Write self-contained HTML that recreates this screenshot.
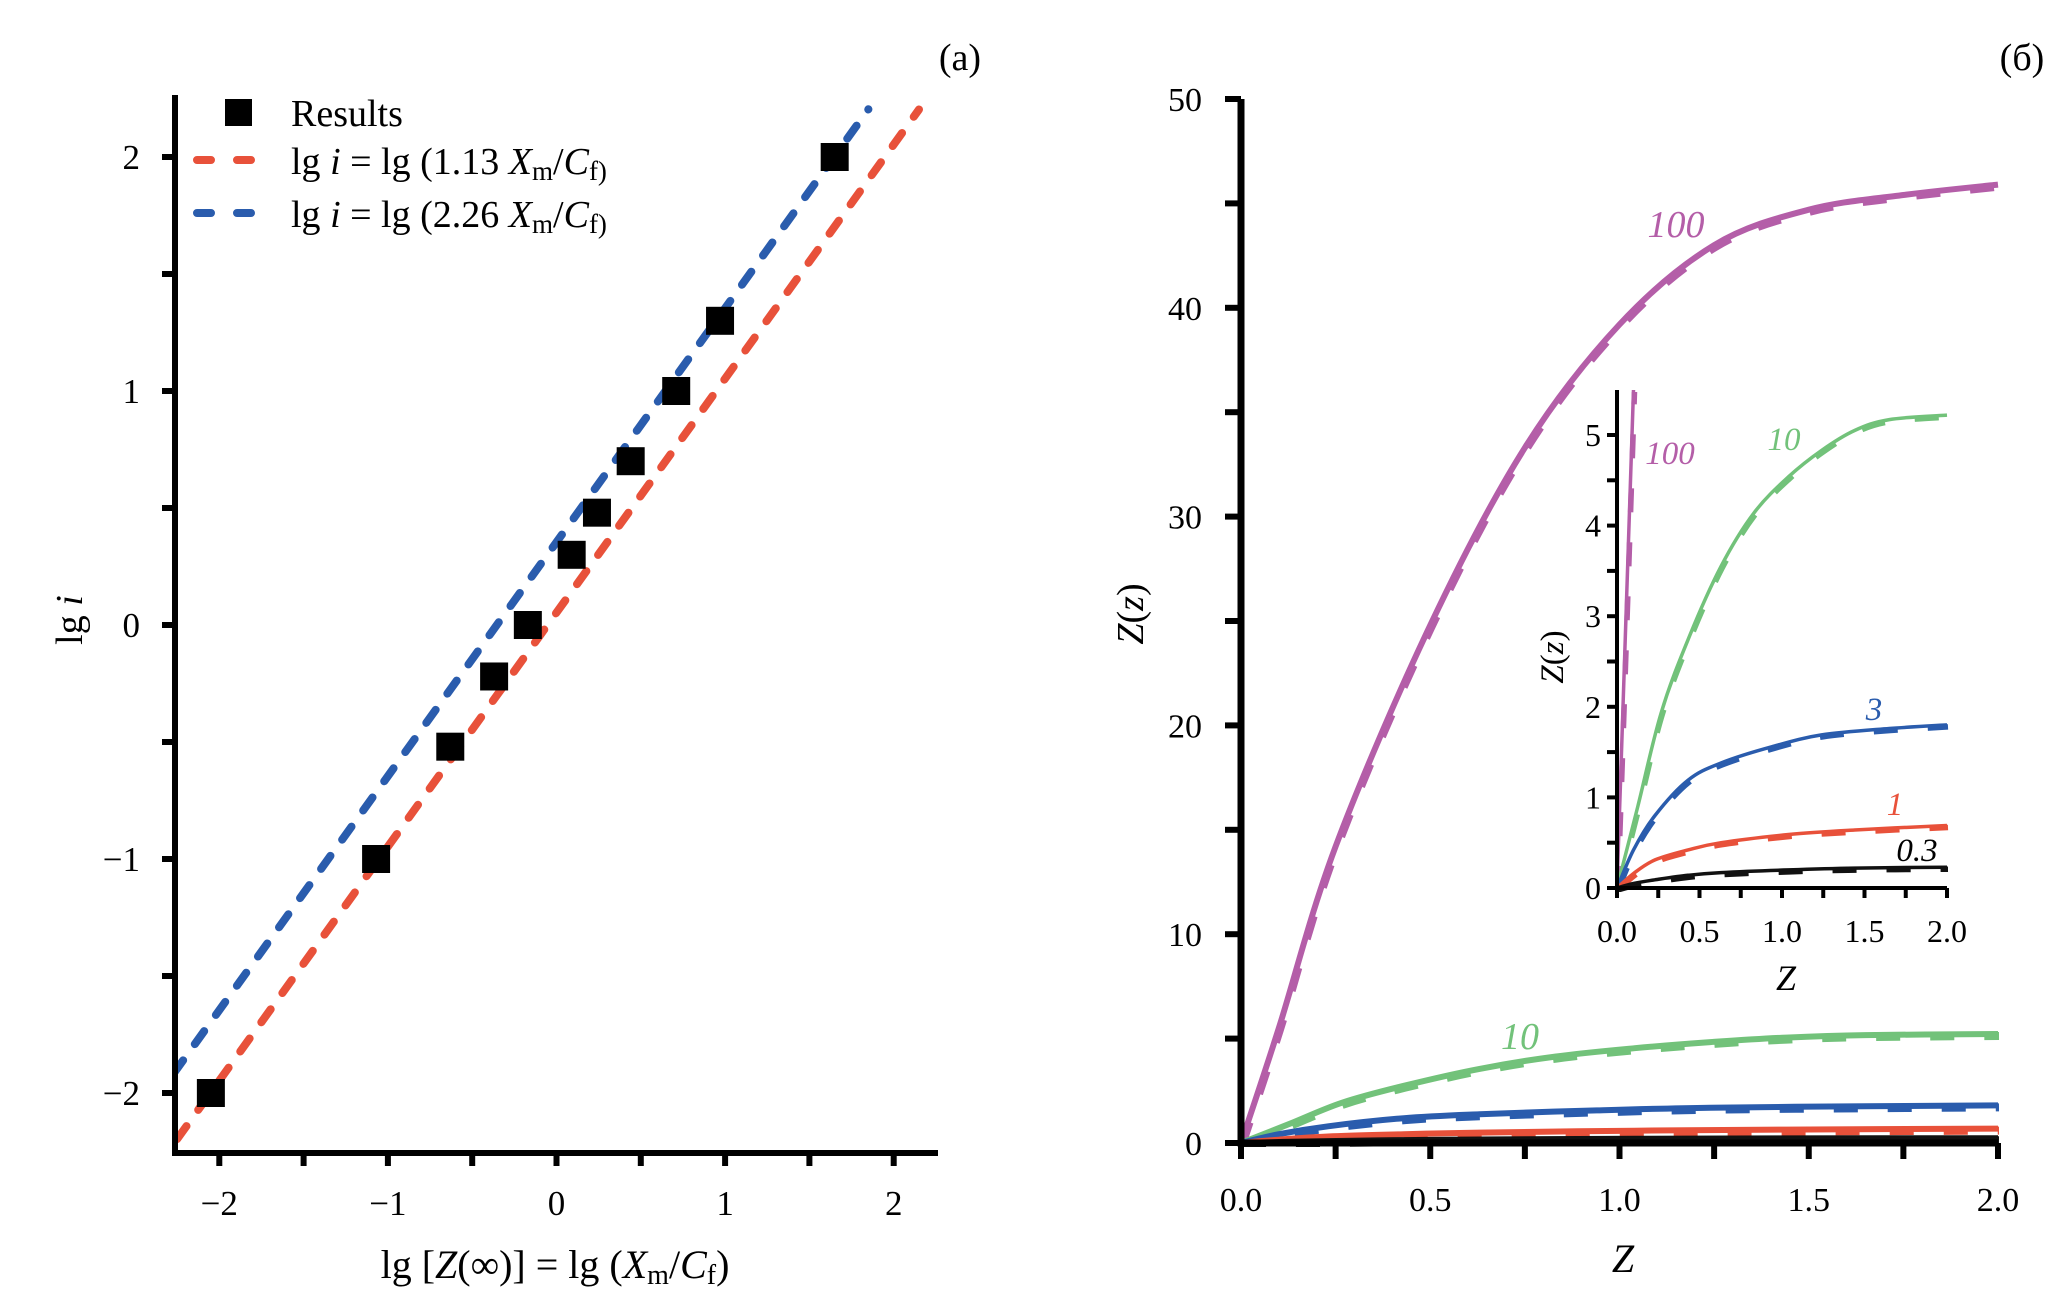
<!DOCTYPE html>
<html><head><meta charset="utf-8"><style>
html,body{margin:0;padding:0;background:#fff;}
svg{display:block;font-family:"Liberation Serif",serif;}
</style></head><body>
<svg id="fig" width="2067" height="1308" viewBox="0 0 2067 1308" xmlns="http://www.w3.org/2000/svg">
<g id="pa"></g>
<g id="pb"></g>
<g id="pc"></g>
<g font-family="Liberation Serif, serif">
  <text x="960" y="70" font-size="38" text-anchor="middle">(a)</text>
  <text x="2022" y="70" font-size="38" text-anchor="middle">(б)</text>
  <g>
    <rect x="225" y="99" width="27" height="27" fill="#000"/>
    <text x="291" y="126" font-size="38">Results</text>
    <line x1="197" y1="160" x2="260" y2="160" stroke="#e8513a" stroke-width="8" stroke-linecap="round" stroke-dasharray="14 26"/>
    <text x="291" y="174" font-size="38">lg <tspan font-style="italic">i</tspan> = lg (1.13 <tspan font-style="italic">X</tspan><tspan font-size="27" dy="6">m</tspan><tspan dy="-6">/</tspan><tspan font-style="italic">C</tspan><tspan font-size="27" dy="6">f)</tspan></text>
    <line x1="197" y1="213" x2="260" y2="213" stroke="#2a5cad" stroke-width="8" stroke-linecap="round" stroke-dasharray="14 26"/>
    <text x="291" y="227" font-size="38">lg <tspan font-style="italic">i</tspan> = lg (2.26 <tspan font-style="italic">X</tspan><tspan font-size="27" dy="6">m</tspan><tspan dy="-6">/</tspan><tspan font-style="italic">C</tspan><tspan font-size="27" dy="6">f)</tspan></text>
  </g>
  <text x="555" y="1278" font-size="40" text-anchor="middle">lg [<tspan font-style="italic">Z</tspan>(∞)] = lg (<tspan font-style="italic">X</tspan><tspan font-size="28" dy="6">m</tspan><tspan dy="-6">/</tspan><tspan font-style="italic">C</tspan><tspan font-size="28" dy="6">f</tspan><tspan dy="-6">)</tspan></text>
  <text transform="translate(82,620) rotate(-90)" font-size="38" text-anchor="middle">lg <tspan font-style="italic">i</tspan></text>
  <text x="1623" y="1272" font-size="40" font-style="italic" text-anchor="middle">Z</text>
  <text transform="translate(1143,614) rotate(-90)" font-size="38" text-anchor="middle"><tspan font-style="italic">Z</tspan>(<tspan font-style="italic">z</tspan>)</text>
  <text x="1676" y="237" font-size="38" font-style="italic" fill="#b45ea8" text-anchor="middle">100</text>
  <text x="1520" y="1049" font-size="38" font-style="italic" fill="#72c27a" text-anchor="middle">10</text>
  <text x="1786" y="990" font-size="36" font-style="italic" text-anchor="middle">Z</text>
  <text transform="translate(1563,657) rotate(-90)" font-size="33" text-anchor="middle"><tspan font-style="italic">Z</tspan>(<tspan font-style="italic">z</tspan>)</text>
  <text x="1670" y="464" font-size="33" font-style="italic" fill="#b45ea8" text-anchor="middle">100</text>
  <text x="1784" y="450" font-size="33" font-style="italic" fill="#72c27a" text-anchor="middle">10</text>
  <text x="1874" y="720" font-size="33" font-style="italic" fill="#2a5cad" text-anchor="middle">3</text>
  <text x="1895" y="815" font-size="33" font-style="italic" fill="#e8513a" text-anchor="middle">1</text>
  <text x="1917" y="861" font-size="33" font-style="italic" text-anchor="middle">0.3</text>
</g>
</svg>
<script>
// ---------- Panel (a) data ----------
const aPointsX = [-2.05, -1.07, -0.63, -0.37, -0.17, 0.09, 0.24, 0.44, 0.71, 0.97, 1.65];
const aPointsY = [-2.0, -1.0, -0.52, -0.22, 0.0, 0.30, 0.48, 0.70, 1.0, 1.30, 2.0];
const aFitCoeffs = [1.13, 2.26];
const aFitRangeX = [[-2.25, 2.15], [-2.27, 1.85]];
const aXTicks = [-2, -1, 0, 1, 2];
const aXTickLabels = ["\u22122", "\u22121", "0", "1", "2"];
const aYTicks = [-2, -1, 0, 1, 2];
const aYTickLabels = ["\u22122", "\u22121", "0", "1", "2"];

// ---------- Panel (b) data ----------
const bZ100 = [0, 0.1, 0.25, 0.5, 0.75, 1.0, 1.25, 1.5, 1.75, 2.0];
const bV100 = [0, 5.5, 14.2, 24.8, 33.3, 39.2, 43.0, 44.7, 45.4, 45.9];
const bZ10 = [0, 0.126, 0.267, 0.43, 0.63, 0.83, 1.04, 1.24, 1.44, 1.65, 2.0];
const bV10 = [0, 0.9, 1.93, 2.74, 3.55, 4.14, 4.54, 4.83, 5.05, 5.17, 5.22];
const bZ3 = [0, 0.1, 0.23, 0.43, 0.63, 0.94, 1.24, 1.65, 2.0];
const bV3 = [0, 0.42, 0.8, 1.19, 1.38, 1.56, 1.69, 1.76, 1.8];
const bZ1 = [0, 0.1, 0.23, 0.43, 0.63, 1.04, 1.44, 2.0];
const bV1 = [0, 0.16, 0.31, 0.42, 0.5, 0.59, 0.64, 0.69];
const bZ03 = [0, 0.1, 0.23, 0.43, 0.63, 1.04, 1.44, 2.0];
const bV03 = [0, 0.05, 0.09, 0.14, 0.17, 0.2, 0.22, 0.23];
const bXTicks = [0, 0.5, 1.0, 1.5, 2.0];
const bXTickLabels = ["0.0", "0.5", "1.0", "1.5", "2.0"];
const bYTicks = [0, 10, 20, 30, 40, 50];
const bYTickLabels = ["0", "10", "20", "30", "40", "50"];
const cYTicks = [0, 1, 2, 3, 4, 5];
const cYTickLabels = ["0", "1", "2", "3", "4", "5"];

const NS = "http://www.w3.org/2000/svg";
function mk(parent, tag, attrs, text) {
  const e = document.createElementNS(NS, tag);
  for (const k in attrs) e.setAttribute(k, attrs[k]);
  if (text !== undefined) e.textContent = text;
  parent.appendChild(e);
  return e;
}
function smoothPath(pts) {
  let d = `M${pts[0][0].toFixed(1)} ${pts[0][1].toFixed(1)}`;
  for (let i = 0; i < pts.length - 1; i++) {
    const p0 = pts[Math.max(0, i - 1)], p1 = pts[i], p2 = pts[i + 1], p3 = pts[Math.min(pts.length - 1, i + 2)];
    const c1x = p1[0] + (p2[0] - p0[0]) / 6, c1y = p1[1] + (p2[1] - p0[1]) / 6;
    const c2x = p2[0] - (p3[0] - p1[0]) / 6, c2y = p2[1] - (p3[1] - p1[1]) / 6;
    d += ` C${c1x.toFixed(1)} ${c1y.toFixed(1)} ${c2x.toFixed(1)} ${c2y.toFixed(1)} ${p2[0].toFixed(1)} ${p2[1].toFixed(1)}`;
  }
  return d;
}

// ---------- Panel (a) ----------
(function(){
  const g = document.getElementById('pa');
  const X0 = 175, X1 = 938, Y0 = 1153, Y1 = 95;
  const sx = v => 556.5 + v * 168.6;
  const sy = v => 625 - v * 234;
  const defs = mk(g, 'defs', {});
  const cp = mk(defs, 'clipPath', {id: 'clipA'});
  mk(cp, 'rect', {x: X0, y: Y1 - 10, width: X1 - X0, height: Y0 - Y1 + 10});
  const colors = ['#e8513a', '#2a5cad'];
  aFitCoeffs.forEach((c, i) => {
    const off = Math.log10(c);
    const [a, b] = aFitRangeX[i];
    const ln = mk(g, 'line', {x1: sx(a), y1: sy(a + off), x2: sx(b), y2: sy(b + off),
      stroke: colors[i], 'stroke-width': 8, 'stroke-dasharray': '16 20', 'stroke-linecap': 'round', 'clip-path': 'url(#clipA)'});
    
    
  });
  aPointsX.forEach((x, i) => {
    const r = mk(g, 'rect', {x: sx(x) - 14, y: sy(aPointsY[i]) - 14, width: 28, height: 28, fill: '#000'});
    
    
  });
  const ax = mk(g, 'path', {d: `M${X0} ${Y1} V${Y0} H${X1}`, stroke: '#000', 'stroke-width': 6, fill: 'none'});
  
  
  for (let v = -2; v <= 2.01; v += 0.5) {
    mk(g, 'line', {x1: sx(v), y1: Y0, x2: sx(v), y2: Y0 + 13, stroke: '#000', 'stroke-width': 6});
    mk(g, 'line', {x1: X0, y1: sy(v), x2: X0 - 13, y2: sy(v), stroke: '#000', 'stroke-width': 6});
  }
  aXTicks.forEach((v, i) => {
    const t = mk(g, 'text', {x: sx(v), y: 1215, 'font-size': 35, 'text-anchor': 'middle'}, aXTickLabels[i]);
    
    
  });
  aYTicks.forEach((v, i) => {
    const t = mk(g, 'text', {x: 140, y: sy(v) + 12, 'font-size': 35, 'text-anchor': 'end'}, aYTickLabels[i]);
    
    
  });
})();

// ---------- Panel (b) ----------
function drawCurves(g, sx, sy, clipId, w) {
  const series = [[bZ100, bV100, '#b45ea8', 'curve-100'], [bZ10, bV10, '#72c27a', 'curve-10'],
    [bZ3, bV3, '#2a5cad', 'curve-3'], [bZ1, bV1, '#e8513a', 'curve-1'], [bZ03, bV03, '#111', 'curve-0-3']];
  series.forEach(([zs, vs, col, nm]) => {
    const d = smoothPath(zs.map((z, i) => [sx(z), sy(vs[i])]));
    const p1 = mk(g, 'path', {d: d, stroke: col, 'stroke-width': w, fill: 'none', 'stroke-linejoin': 'round', 'clip-path': `url(#${clipId})`});
    
    
    const p2 = mk(g, 'path', {d: d, stroke: col, 'stroke-width': w + 2, fill: 'none', 'stroke-dasharray': '24 30', transform: 'translate(1,2)', 'clip-path': `url(#${clipId})`});
    
    
  });
}
(function(){
  const g = document.getElementById('pb');
  const X0 = 1241, X1 = 1998, Y0 = 1143, Y1 = 99;
  const sx = v => X0 + v * (X1 - X0) / 2;
  const sy = v => Y0 - v * (Y0 - Y1) / 50;
  const defs = mk(g, 'defs', {});
  const cp = mk(defs, 'clipPath', {id: 'clipB'});
  mk(cp, 'rect', {x: X0, y: Y1, width: X1 - X0 + 2, height: Y0 - Y1 + 2});
  drawCurves(g, sx, sy, 'clipB', 6);
  const ax = mk(g, 'path', {d: `M${X0} ${Y1} V${Y0} H${X1}`, stroke: '#000', 'stroke-width': 7, fill: 'none'});
  
  
  for (let v = 0; v <= 2.001; v += 0.25) mk(g, 'line', {x1: sx(v), y1: Y0, x2: sx(v), y2: Y0 + 16, stroke: '#000', 'stroke-width': 6});
  for (let v = 0; v <= 50.01; v += 5) mk(g, 'line', {x1: X0, y1: sy(v), x2: X0 - 16, y2: sy(v), stroke: '#000', 'stroke-width': 6});
  bXTicks.forEach((v, i) => {
    const t = mk(g, 'text', {x: sx(v), y: 1211, 'font-size': 34, 'text-anchor': 'middle'}, bXTickLabels[i]);
    
    
  });
  bYTicks.forEach((v, i) => {
    const t = mk(g, 'text', {x: 1202, y: sy(v) + 12, 'font-size': 34, 'text-anchor': 'end'}, bYTickLabels[i]);
    
    
  });
})();

// ---------- Inset ----------
(function(){
  const g = document.getElementById('pc');
  const X0 = 1617, X1 = 1947, Y0 = 888, Y1 = 390;
  const sx = v => X0 + v * (X1 - X0) / 2;
  const sy = v => Y0 - v * 90.6;
  const defs = mk(g, 'defs', {});
  const cp = mk(defs, 'clipPath', {id: 'clipC'});
  mk(cp, 'rect', {x: X0, y: Y1, width: X1 - X0 + 2, height: Y0 - Y1 + 2});
  drawCurves(g, sx, sy, 'clipC', 3.5);
  const ax = mk(g, 'path', {d: `M${X0} ${Y1} V${Y0} H${X1}`, stroke: '#000', 'stroke-width': 4, fill: 'none'});
  
  
  for (let v = 0; v <= 2.001; v += 0.25) mk(g, 'line', {x1: sx(v), y1: Y0, x2: sx(v), y2: Y0 + 10, stroke: '#000', 'stroke-width': 4});
  for (let v = 0; v <= 5.01; v += 0.5) mk(g, 'line', {x1: X0, y1: sy(v), x2: X0 - 10, y2: sy(v), stroke: '#000', 'stroke-width': 4});
  bXTicks.forEach((v, i) => {
    const t = mk(g, 'text', {x: sx(v), y: 942, 'font-size': 32, 'text-anchor': 'middle'}, bXTickLabels[i]);
    
    
  });
  cYTicks.forEach((v, i) => {
    const t = mk(g, 'text', {x: 1601, y: sy(v) + 11, 'font-size': 32, 'text-anchor': 'end'}, cYTickLabels[i]);
    
    
  });
})();
</script>
</body></html>
